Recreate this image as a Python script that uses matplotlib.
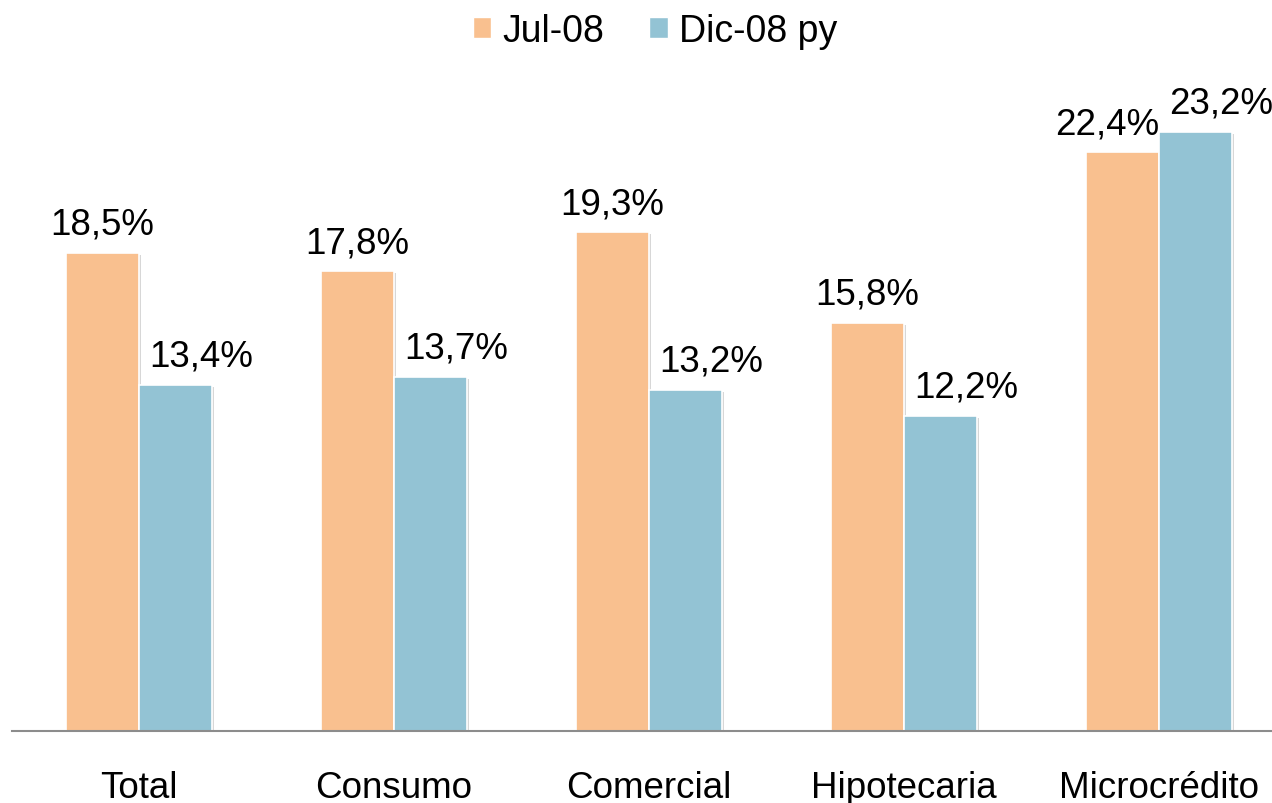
import matplotlib.pyplot as plt
import matplotlib.patches as mpatches
import matplotlib.patheffects as pe
import numpy as np

plt.rcParams['font.family'] = ['Liberation Sans', 'DejaVu Sans']

# Data
categories = ['Total', 'Consumo', 'Comercial', 'Hipotecaria', 'Microcrédito']
jul08 = [18.5, 17.8, 19.3, 15.8, 22.4]
dic08 = [13.4, 13.7, 13.2, 12.2, 23.2]
series_names = ['Jul-08', 'Dic-08 py']

colors = ['#F9C08F', '#93C3D4']
fs = 26.5

fig = plt.figure(figsize=(12.72, 8.04), dpi=100)
# axes wider than the figure so the last label gets clipped like the original
ax = fig.add_axes([11.5 / 1272, 72 / 804, 1275 / 1272, 646 / 804])

x = np.arange(len(categories))
w = 0.286

shadow = [pe.SimplePatchShadow(offset=(1.5, -1.5), shadow_rgbFace='#b0b0b0', alpha=0.5), pe.Normal()]
ax.bar(x - w / 2, jul08, w, color=colors[0], edgecolor='white', lw=1.2, path_effects=shadow)
ax.bar(x + w / 2, dic08, w, color=colors[1], edgecolor='white', lw=1.2, path_effects=shadow)

def fmt(v):
    return f"{v:.1f}%".replace('.', ',')

# value labels (px offsets -> points)
for i, v in enumerate(jul08):
    dx = -15 if i == len(jul08) - 1 else 0
    ax.annotate(fmt(v), (x[i] - w / 2, v), xytext=(dx * 0.72, 19 * 0.72),
                textcoords='offset points', ha='center', va='baseline', fontsize=fs)
for i, v in enumerate(dic08):
    ax.annotate(fmt(v), (x[i] + w / 2, v), xytext=(26 * 0.72, 19 * 0.72),
                textcoords='offset points', ha='center', va='baseline', fontsize=fs)

ax.set_xlim(-0.5, len(categories) - 0.5)
ax.set_ylim(0, 25)
ax.set_xticks(x)
ax.set_xticklabels(categories, fontsize=fs)
ax.tick_params(axis='x', length=0, pad=28)
ax.set_yticks([])
for s in ['top', 'right', 'left']:
    ax.spines[s].set_visible(False)
ax.spines['bottom'].set_color('#8c8c8c')
ax.spines['bottom'].set_linewidth(1.5)

handles = [mpatches.Patch(facecolor=c, edgecolor='white', label=n) for c, n in zip(colors, series_names)]
fig.legend(handles=handles, loc='upper center', bbox_to_anchor=(0.515, 1.025), ncol=2, frameon=False,
           fontsize=fs + 0.5, handlelength=0.5, handleheight=0.5, handletextpad=0.3, columnspacing=1.2)

fig.savefig('out.png', dpi=100)
